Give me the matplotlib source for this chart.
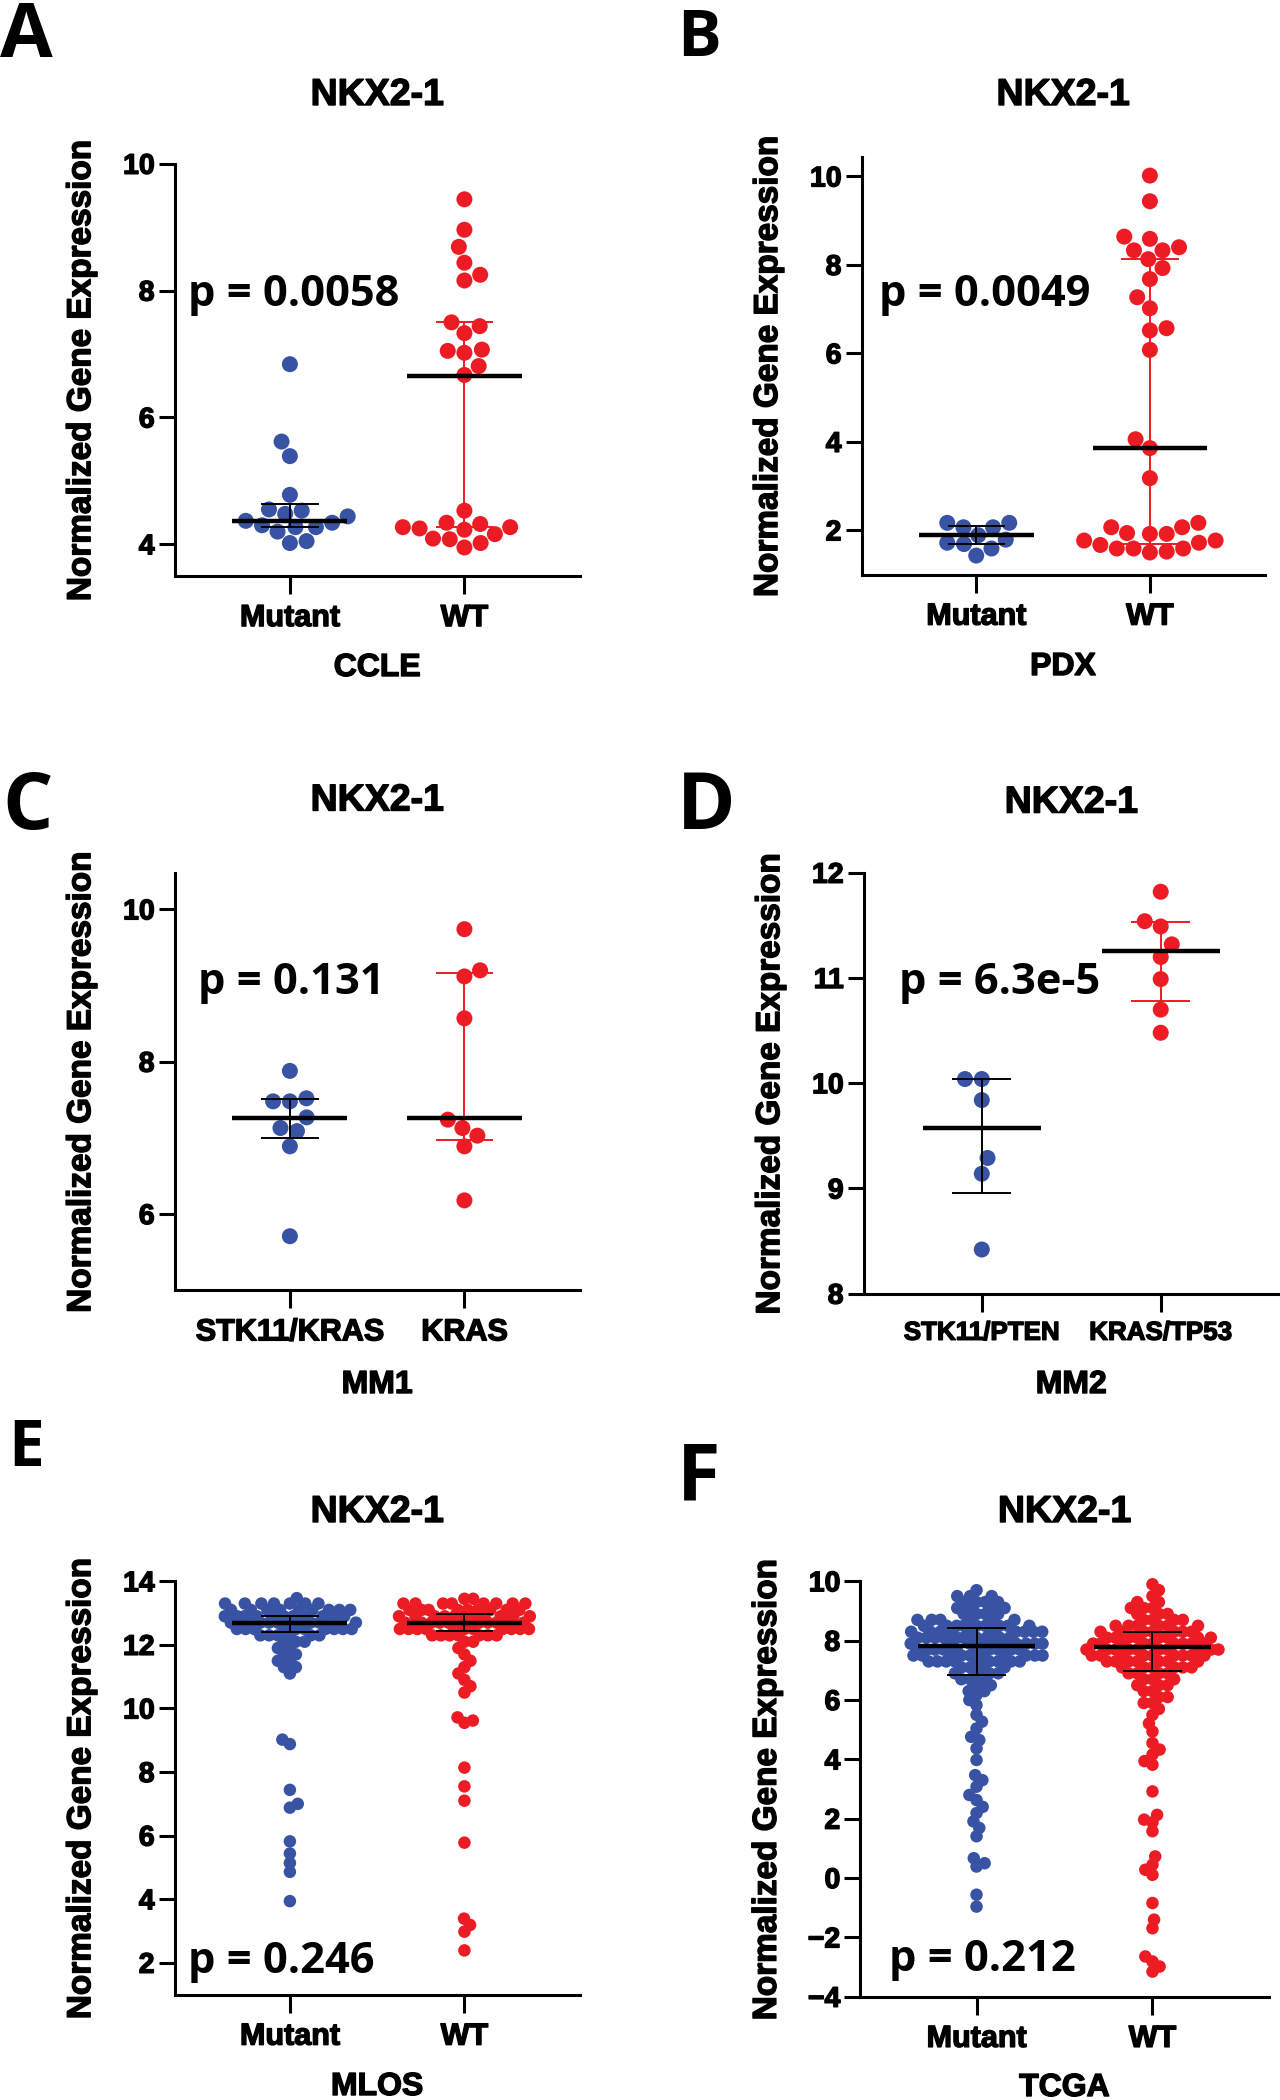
import numpy as np
import matplotlib
matplotlib.use('Agg')
import matplotlib.pyplot as plt
import matplotlib.patheffects as pe

plt.rcParams['font.family'] = ['Liberation Sans', 'DejaVu Sans']
plt.rcParams['font.weight'] = 'bold'

W, H = 1280, 2100
BLUE = '#3953a4'
RED = '#ed1c24'
heavy = [pe.withStroke(linewidth=1.0, foreground='black')]

# ---- data ----
groups_AE = ['Mutant', 'WT']
groups_C = ['STK11/KRAS', 'KRAS']
groups_D = ['STK11/PTEN', 'KRAS/TP53']

# A  CCLE
A_mut = [6.84, 5.62, 5.39, 4.78, 4.55, 4.53, 4.48, 4.44, 4.37, 4.34, 4.30, 4.27,
         4.27, 4.20, 4.05, 4.02]
A_wt = [9.44, 8.96, 8.69, 8.44, 8.25, 8.16, 7.50, 7.44, 7.33, 7.07, 7.05, 7.02,
        6.81, 6.67, 4.53, 4.34, 4.32, 4.27, 4.27, 4.25, 4.23, 4.16, 4.09, 4.08,
        4.02, 3.95]
A_mid = [4.37, 6.65]
A_lo = [4.28, 4.27]
A_hi = [4.64, 7.50]

# B  PDX
B_mut = [2.17, 2.17, 2.07, 2.07, 1.89, 1.79, 1.72, 1.69, 1.59, 1.43]
B_wt = [10.02, 9.44, 8.64, 8.59, 8.40, 8.33, 8.33, 8.13, 7.93, 7.68, 7.27, 7.02,
        6.57, 6.52, 6.08, 4.06, 3.86, 3.18, 2.17, 2.07, 2.07, 1.94, 1.92, 1.92,
        1.77, 1.77, 1.72, 1.67, 1.59, 1.59, 1.59, 1.52, 1.50]
B_mid = [1.89, 3.87]
B_lo = [1.69, 1.70]
B_hi = [2.09, 8.13]

# C  MM1
C_mut = [7.88, 7.52, 7.48, 7.48, 7.27, 7.13, 7.09, 6.89, 5.71]
C_wt = [9.74, 9.20, 9.12, 8.57, 7.24, 7.13, 7.03, 6.89, 6.18]
C_mid = [7.26, 7.26]
C_lo = [7.00, 6.97]
C_hi = [7.51, 9.16]

# D  MM2
D_mut = [10.04, 10.04, 9.84, 9.29, 9.14, 8.42]
D_wt = [11.82, 11.54, 11.49, 11.32, 11.20, 10.99, 10.70, 10.48]
D_mid = [9.57, 11.26]
D_lo = [8.96, 10.78]
D_hi = [10.04, 11.53]

# E  MLOS  (dense part given as value levels + number of samples per level)
E_mut_levels = [13.47, 13.3, 13.1, 12.9, 12.7, 12.5, 12.3, 12.1, 11.9, 11.7, 11.5, 11.3, 11.1]
E_mut_counts = [1, 7, 9, 11, 11, 10, 6, 3, 2, 2, 2, 2, 1]
E_mut_low = [9.02, 8.88, 7.44, 7.0, 6.88, 5.82, 5.44, 5.14, 4.86, 3.94]
E_wt_levels = [13.45, 13.3, 13.1, 12.9, 12.7, 12.5, 12.3, 12.1, 11.9, 11.7, 11.5,
               11.3, 11.1, 10.9, 10.7, 10.5]
E_wt_counts = [2, 8, 9, 11, 11, 11, 7, 2, 1, 1, 1, 1, 1, 1, 1, 1]
E_wt_low = [9.72, 9.62, 9.55, 8.14, 7.55, 7.1, 5.78, 3.39, 3.19, 2.98, 2.39]
E_mid = [12.70, 12.70]
E_lo = [12.40, 12.44]
E_hi = [12.92, 12.96]

# F  TCGA
F_mut_levels = [9.7, 9.5, 9.3, 9.1, 8.9, 8.7, 8.5, 8.3, 8.1, 7.9, 7.7, 7.5, 7.3,
                7.1, 6.9, 6.7, 6.5, 6.3]
F_mut_counts = [1, 3, 4, 4, 4, 6, 9, 10, 10, 10, 10, 10, 9, 4, 4, 3, 2, 2]
F_mut_low = [6.17, 6.0, 5.83, 5.5, 5.27, 5.04, 4.76, 4.65, 4.37, 3.98, 3.47, 3.3,
             3.08, 2.8, 2.63, 2.4, 2.19, 1.91, 1.69, 1.41, 0.67, 0.5, 0.39,
             -0.56, -0.96, -2.36]
F_wt_levels = [9.9, 9.7, 9.5, 9.3, 9.1, 8.9, 8.7, 8.5, 8.3, 8.1, 7.9, 7.7, 7.5,
               7.3, 7.1, 6.9, 6.7, 6.5, 6.3, 6.1, 5.9, 5.7, 5.5]
F_wt_counts = [1, 1, 1, 2, 3, 3, 4, 6, 7, 8, 9, 10, 9, 7, 6, 4, 3, 3, 2, 2, 2, 1, 1]
F_wt_low = [5.21, 4.94, 4.55, 4.33, 4.16, 3.94, 3.82, 2.92, 2.13, 1.97, 1.88,
            1.58, 0.73, 0.45, 0.28, 0.11, -0.84, -1.4, -1.69, -2.64, -2.81,
            -2.98, -3.15]
F_mid = [7.82, 7.77]
F_lo = [6.83, 6.98]
F_hi = [8.44, 8.29]


def expand(levels, counts, low):
    return list(np.repeat(levels, counts)) + list(low)


def swarm(ax, vals, center, dcoll, hw):
    """beeswarm offsets computed in pixel space, returned in data units"""
    vals = np.asarray(vals, float)
    pts = ax.transData.transform(np.column_stack([np.full(len(vals), center), vals]))
    x0 = pts[0, 0]
    ys = pts[:, 1]
    order = np.argsort(ys, kind='stable')
    px, py = [], []
    xs = np.zeros(len(vals))
    bal = 0.0
    for i in order:
        y = ys[i]
        near = [(a, b) for a, b in zip(px, py) if abs(b - y) < dcoll * 1.6]
        blocks = []
        for a, b in near:
            dy = abs(b - y)
            if dy < dcoll:
                dx = np.sqrt(dcoll ** 2 - dy ** 2)
                blocks.append((a - dx, a + dx))
        cands = [0.0] + [c for blk in blocks for c in blk]
        good = [c for c in cands if abs(c) <= hw + 1e-6 and
                all(not (lo + 1e-6 < c < hi - 1e-6) for lo, hi in blocks)]
        if good:
            sgn = -1 if bal > 0 else 1
            best = min(good, key=lambda c: (round(abs(c), 2), -sgn * c))
        else:
            grid = np.linspace(-hw, hw, 41)
            best = max(grid, key=lambda c: (round(min(np.hypot(a - c, b - y) for a, b in near), 2), -abs(c)))
        xs[i] = best
        px.append(best)
        py.append(y)
        bal += np.sign(best)
    return ax.transData.inverted().transform(np.column_stack([x0 + xs, ys]))[:, 0]


def fx(p):
    return p / W


def fy(p):
    return 1 - p / H


fig = plt.figure(figsize=(12.8, 21), dpi=100)

panels = [
    dict(letter='A', box=(174.7, 163.8, 579.6, 576.0), ylim=(3.5, 10), yt=[4, 6, 8, 10],
         data=(A_mut, A_wt), mid=A_mid, lo=A_lo, hi=A_hi, cats=groups_AE, xlab='CCLE',
         ptxt='p = 0.0058', ppos=(188, 306), tbase=105, xbase=676,
         lpos=(0, 57), lsize=55, ms=16, dense=False, ecol=['k', RED], xts=22),
    dict(letter='B', box=(861.6, 157.0, 1264.5, 574.6), ylim=(1.0, 10.44), yt=[2, 4, 6, 8, 10],
         data=(B_mut, B_wt), mid=B_mid, lo=B_lo, hi=B_hi, cats=groups_AE, xlab='PDX',
         ptxt='p = 0.0049', ppos=(879, 306), tbase=105, xbase=675,
         lpos=(677, 56), lsize=47, ms=16, dense=False, ecol=['k', RED], xts=22),
    dict(letter='C', box=(174.7, 872.8, 579.6, 1290.3), ylim=(5.0, 10.48), yt=[6, 8, 10],
         data=(C_mut, C_wt), mid=C_mid, lo=C_lo, hi=C_hi, cats=groups_C, xlab='MM1',
         ptxt='p = 0.131', ppos=(198, 993.6), tbase=810.5, xbase=1393,
         lpos=(2, 829), lsize=57, ms=16, dense=False, ecol=['k', RED], xts=22),
    dict(letter='D', box=(863.7, 872.8, 1278.8, 1293.7), ylim=(8, 12), yt=[8, 9, 10, 11, 12],
         data=(D_mut, D_wt), mid=D_mid, lo=D_lo, hi=D_hi, cats=groups_D, xlab='MM2',
         ptxt='p = 6.3e-5', ppos=(899, 993.6), tbase=812.6, xbase=1393,
         lpos=(677, 829), lsize=57, ms=16, dense=False, ecol=['k', RED], xts=18.7),
    dict(letter='E', box=(174.7, 1581.3, 579.6, 1994.6), ylim=(1, 14), yt=list(range(2, 15, 2)),
         data=(expand(E_mut_levels, E_mut_counts, E_mut_low), expand(E_wt_levels, E_wt_counts, E_wt_low)),
         mid=E_mid, lo=E_lo, hi=E_hi, cats=groups_AE, xlab='MLOS',
         ptxt='p = 0.246', ppos=(188, 1973), tbase=1522, xbase=2095,
         lpos=(8, 1466), lsize=46, ms=12.5, dense=True, ecol=['k', 'k'], xts=22),
    dict(letter='F', box=(860.4, 1581.3, 1268.6, 1996.8), ylim=(-4, 10), yt=list(range(-4, 11, 2)),
         data=(expand(F_mut_levels, F_mut_counts, F_mut_low), expand(F_wt_levels, F_wt_counts, F_wt_low)),
         mid=F_mid, lo=F_lo, hi=F_hi, cats=groups_AE, xlab='TCGA',
         ptxt='p = 0.212', ppos=(889, 1971), tbase=1522, xbase=2096,
         lpos=(677, 1500), lsize=57, ms=12.5, dense=True, ecol=['k', 'k'], xts=22),
]

for p in panels:
    l, t, r, b = p['box']
    ax = fig.add_axes([fx(l), fy(b), (r - l) / W, (b - t) / H])
    ax.set_xlim(-0.66, 1.66)
    ax.set_ylim(*p['ylim'])
    ax.set_yticks(p['yt'])
    ax.set_xticks([0, 1])
    ax.set_xticklabels(p['cats'])
    for s in ['top', 'right']:
        ax.spines[s].set_visible(False)
    for s in ['left', 'bottom']:
        ax.spines[s].set_linewidth(2.2)
    ax.tick_params(axis='y', length=11.5, width=2.2, pad=3, labelsize=20.5)
    ax.tick_params(axis='x', length=13, width=2.2, pad=6.5, labelsize=p['xts'])
    for lab in ax.get_xticklabels() + ax.get_yticklabels():
        lab.set_path_effects(heavy)
    ax.patch.set_alpha(0)

    d = p['ms']
    size = (d * 0.72) ** 2
    for k, (vals, col) in enumerate(zip(p['data'], [BLUE, RED])):
        if p['dense']:
            xd = swarm(ax, vals, k, d * 0.7, 66)
        else:
            xd = swarm(ax, vals, k, d * 1.05, 80)
        ax.scatter(xd, vals, s=size, color=col, edgecolors='none', zorder=3, clip_on=False)

    for k in range(2):
        ec = p['ecol'][k]
        ax.plot([k, k], [p['lo'][k], p['hi'][k]], color=ec, lw=1.4, zorder=4)
        for yv in (p['lo'][k], p['hi'][k]):
            ax.plot([k - 0.165, k + 0.165], [yv, yv], color=ec, lw=1.4, zorder=4,
                    solid_capstyle='butt')
        ax.plot([k - 0.33, k + 0.33], [p['mid'][k], p['mid'][k]], color='k', lw=3.2,
                zorder=5, solid_capstyle='butt')

    cx = (l + r) / 2
    fig.text(fx(cx), fy(p['tbase']), 'NKX2-1', ha='center', va='baseline', fontsize=27,
             path_effects=heavy)
    fig.text(fx(cx), fy(p['xbase']), p['xlab'], ha='center', va='baseline', fontsize=23,
             path_effects=heavy)
    fig.text(fx(l - 93), fy((t + b) / 2), 'Normalized Gene Expression', rotation=90,
             ha='center', va='center', fontsize=24, path_effects=heavy)
    fig.text(fx(p['ppos'][0]), fy(p['ppos'][1]), p['ptxt'], ha='left', va='baseline',
             family=['Open Sans', 'DejaVu Sans'], fontsize=31.3, fontweight='bold',
             bbox=dict(facecolor='white', edgecolor='none', pad=0))
    fig.text(fx(p['lpos'][0]), fy(p['lpos'][1]), p['letter'], ha='left', va='baseline',
             family=['Open Sans', 'DejaVu Sans'], fontsize=p['lsize'], fontweight='bold')

fig.savefig('out.png', dpi=100)
